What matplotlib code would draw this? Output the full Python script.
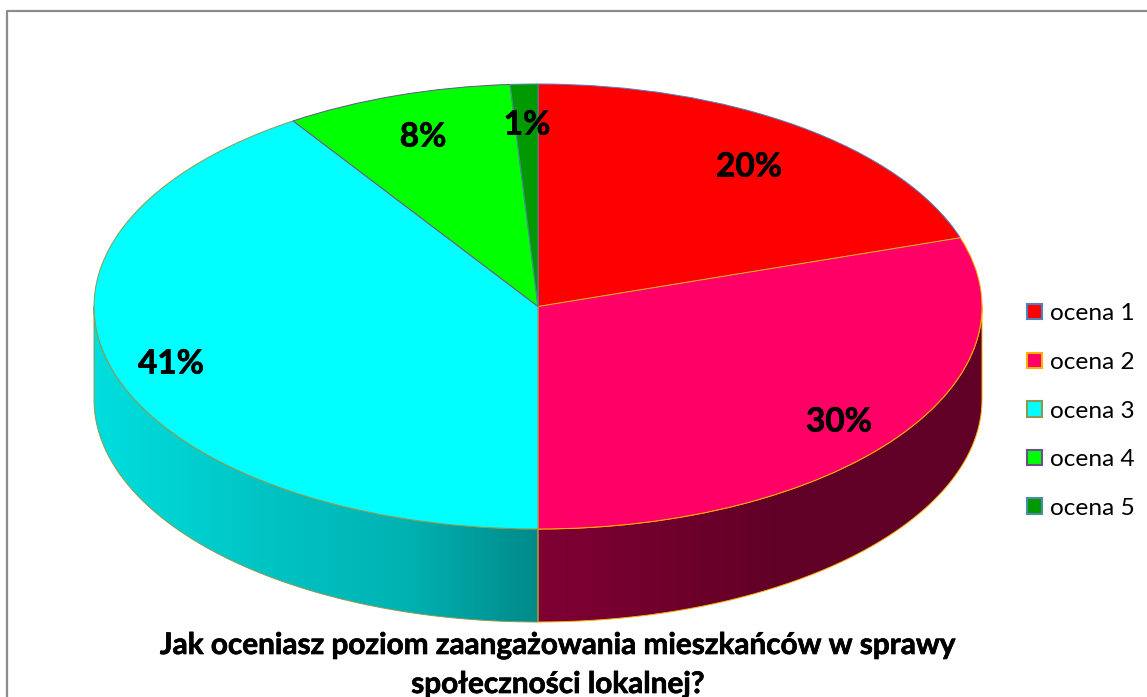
import numpy as np
import matplotlib
matplotlib.use("Agg")
import matplotlib.pyplot as plt
import matplotlib.patheffects as pe
from matplotlib.patches import Patch, PathPatch
from matplotlib.path import Path

categories = ["ocena 1", "ocena 2", "ocena 3", "ocena 4", "ocena 5"]
values = [20, 30, 40.7, 8.3, 1]
value_labels = ["20%", "30%", "41%", "8%", "1%"]
title_line1 = "Jak oceniasz poziom zaangażowania mieszkańców w sprawy"
title_line2 = "społeczności lokalnej?"

colors = ["#FF0000", "#FF0066", "#00FFFF", "#00FF00", "#009900"]
edges = ["#4F81BD", "#FFB000", "#8A9A50", "#6B4F8F", "#4B8CA6"]
shade_x = {1: [-1.0, 0.0, 0.55, 1.0], 2: [-1.0, -0.58, -0.3, 0.0]}
shade_f = {1: [0.5, 0.5, 0.38, 0.38], 2: [0.87, 0.76, 0.70, 0.54]}

W, H = 1147, 697
CX, CY, RX, RY, DEPTH = 538, 306.5, 444, 222.5, 93
font = "Lato"
heavy = [pe.withStroke(linewidth=0.5, foreground="black")]

fig = plt.figure(figsize=(W / 100, H / 100), dpi=100, facecolor="white")
ax = fig.add_axes([0, 0, 1, 1])

def px(x):
    return (x - CX) / RX

def py(y):
    return (CY - y) / RY

d = DEPTH / RY
xlim = (px(0), px(W))
ylim = (py(H), py(0))

# sides
cum = np.cumsum([0] + values) / sum(values)
for i in range(len(values)):
    a, b = max(cum[i], 0.25), min(cum[i + 1], 0.75)
    if a >= b:
        continue
    t = np.pi / 2 - 2 * np.pi * np.linspace(a, b, 200)
    xs, ys = np.cos(t), np.sin(t)
    verts = np.r_[np.c_[xs, ys], np.c_[xs[::-1], ys[::-1] - d], [[xs[0], ys[0]]]]
    path = Path(verts)
    gx = np.linspace(-1, 1, 888)
    f = np.interp(gx, shade_x[i], shade_f[i])
    base = np.array(matplotlib.colors.to_rgb(colors[i]))
    img = (f[:, None] * base)[None, :, :]
    im = ax.imshow(img, extent=(-1, 1, -2, 2), aspect="auto", zorder=1, interpolation="bilinear")
    im.set_clip_path(PathPatch(path, transform=ax.transData))
    ax.add_patch(PathPatch(path, fc="none", ec=edges[i], lw=0.7, zorder=2))

# top
wedges, _ = ax.pie(values, colors=colors, startangle=90, counterclock=False, radius=1, center=(0, 0),
                   wedgeprops=dict(linewidth=0.7))
for w, e in zip(wedges, edges):
    w.set_edgecolor(e)
    w.set_zorder(3)

ax.set_frame_on(False)
ax.set_aspect("auto")
ax.set_xlim(*xlim)
ax.set_ylim(*ylim)
ax.set_xticks([])
ax.set_yticks([])

# value labels
label_px = [(749, 167), (839, 422), (171, 364), (423, 137), (527, 125)]
for s, (x, y) in zip(value_labels, label_px):
    ax.text(px(x), py(y), s, ha="center", va="center", fontsize=24, fontweight="bold",
            family=font, color="black", zorder=5, path_effects=heavy)

# title
for line, y in zip([title_line1, title_line2], [645, 684]):
    ax.text(px(558), py(y), line, ha="center", va="center", fontsize=21.4,
            fontweight="bold", family=font, color="black", zorder=5, path_effects=heavy)

# legend
handles = [Patch(facecolor=c, edgecolor=e, linewidth=1.5) for c, e in zip(colors, edges)]
leg = ax.legend(handles, categories, loc="center left", bbox_to_anchor=(1020 / W, 1 - 411 / H),
                bbox_transform=fig.transFigure, frameon=False,
                prop=dict(family=font, size=17.6), handlelength=0.6, handleheight=0.6,
                handletextpad=0.32, labelspacing=1.13, borderpad=0.3, borderaxespad=0)
leg.set_zorder(6)

# chart border
ax.plot([px(7), px(7), px(W)], [py(H), py(11), py(11)], color="#8C8C8C", lw=1.6, zorder=6, clip_on=False)

fig.savefig("out.png", dpi=100)
